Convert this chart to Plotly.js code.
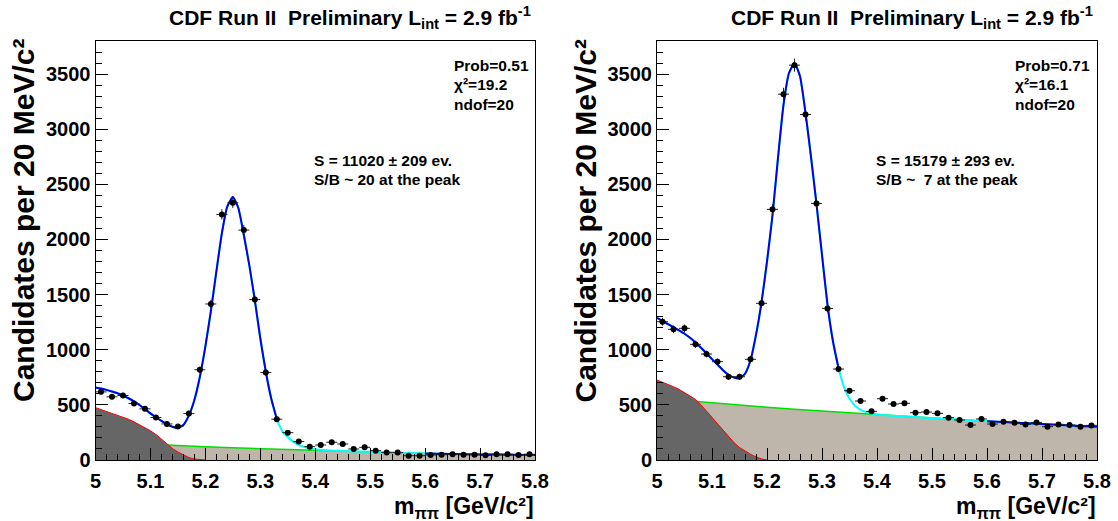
<!DOCTYPE html>
<html>
<head>
<meta charset="utf-8">
<script src="https://cdn.plot.ly/plotly-3.0.1.min.js"></script>
<style>html,body{margin:0;padding:0;background:#fff;}#chart{width:1118px;height:521px;}</style>
</head>
<body>
<div id="chart"></div>
<script>
// ---------------- data ----------------
const binCenters = [5.01,5.03,5.05,5.07,5.09,5.11,5.13,5.15,5.17,5.19,5.21,5.23,5.25,5.27,5.29,5.31,5.33,5.35,5.37,5.39,
                    5.41,5.43,5.45,5.47,5.49,5.51,5.53,5.55,5.57,5.59,5.61,5.63,5.65,5.67,5.69,5.71,5.73,5.75,5.77,5.79];
const leftCounts  = [618,573,585,512,464,385,327,303,421,818,1415,2227,2333,2085,1455,794,370,248,167,121,
                     136,161,145,100,115,85,67,67,39,39,45,48,52,48,48,42,52,52,45,52];
const rightCounts = [1254,1185,1194,1049,961,892,755,755,913,1421,2273,3318,3581,3134,2327,1375,825,628,535,441,
                     556,508,514,429,435,423,384,363,317,372,326,347,338,323,341,302,323,317,302,314];

// total fit function, sampled from the drawn curve
const curveX = [5.00,5.01,5.02,5.03,5.04,5.05,5.06,5.07,5.08,5.09,5.10,5.11,5.12,5.13,5.14,5.15,5.16,5.17,5.18,5.19,
                5.20,5.21,5.22,5.23,5.24,5.25,5.26,5.27,5.28,5.29,5.30,5.31,5.32,5.33,5.34,5.35,5.36,5.37,5.38,5.39,
                5.40,5.42,5.45,5.50,5.55,5.60,5.65,5.70,5.75,5.80];
const leftTotal  = [658,648,636,621,605,584,560,531,499,462,423,388,355,325,302,292,318,405,545,755,
                    1030,1350,1710,2055,2300,2385,2285,2040,1765,1450,1103,800,556,374,262,208,165,136,117,105,
                    97,88,81,74,66,59,55,51,48,46];
const rightTotal = [1290,1262,1232,1204,1175,1145,1108,1066,1018,968,915,865,815,773,748,742,782,905,1135,1430,
                    1800,2220,2740,3220,3510,3600,3480,3150,2750,2320,1860,1410,1075,835,664,557,492,455,435,421,
                    413,404,396,381,366,352,339,326,314,302];

// combinatorial background (green line, beige area)
const combX = [5.00,5.05,5.10,5.15,5.20,5.25,5.30,5.35,5.40,5.45,5.50,5.55,5.60,5.65,5.70,5.75,5.80];
const leftComb  = [166,153,141,130,120,110,102,94,86,79,72,65,59,55,51,48,46];
const rightComb = [559,538,518,498,479,461,444,427,411,395,380,366,352,339,326,314,302];

// partially reconstructed background (red line, dark grey area)
const partX = [5.00,5.01,5.02,5.03,5.04,5.05,5.06,5.07,5.08,5.09,5.10,5.11,5.12,5.13,5.14,5.15,5.16,5.17,5.18,5.19,5.20];
const leftPartial  = [475,458,442,425,408,390,370,347,322,295,265,232,190,145,105,73,45,22,9,3,0];
const rightPartial = [725,706,688,665,641,612,582,550,500,443,385,323,264,210,158,113,80,52,28,10,0];

// fit windows where the total function is drawn in blue
const fitWindows = [[5.00, 5.33], [5.60, 5.80]];

// texts
const titleText = 'CDF Run II\u00a0\u00a0Preliminary L<sub style="font-size:15px">int</sub> = 2.9 fb<sup style="font-size:15px">-1</sup>';
const yTitleText = 'Candidates per 20 MeV/c\u00b2';
const xTitleText = 'm<sub style="font-size:16px">\u03c0\u03c0</sub> [GeV/c\u00b2]';
const leftStats  = ['Prob=0.51', '\u03c7\u00b2=19.2', 'ndof=20'];
const rightStats = ['Prob=0.71', '\u03c7\u00b2=16.1', 'ndof=20'];
const leftYield  = ['S = 11020 \u00b1 209 ev.', 'S/B ~ 20 at the peak'];
const rightYield = ['S = 15179 \u00b1 293 ev.', 'S/B ~\u00a0\u00a07 at the peak'];

// ---------------- drawing ----------------
const W = 1118, H = 521;
const FONT = 'Liberation Sans, Arial, Helvetica, sans-serif';
const pxX = v => v / W;
const pxY = v => 1 - v / H;

const panels = [
  {xa:'x',  ya:'y',  counts:leftCounts,  total:leftTotal,  comb:leftComb,  part:leftPartial,
   left:95.5, right:535, stats:leftStats, yieldTxt:leftYield},
  {xa:'x2', ya:'y2', counts:rightCounts, total:rightTotal, comb:rightComb, part:rightPartial,
   left:657, right:1097, stats:rightStats, yieldTxt:rightYield}
];

const traces = [];
panels.forEach(p => {
  traces.push({x:combX, y:p.comb, xaxis:p.xa, yaxis:p.ya, mode:'lines', fill:'tozeroy',
               fillcolor:'rgb(190,181,171)', line:{color:'#00e000', width:1.5}, hoverinfo:'skip'});
  traces.push({x:partX, y:p.part, xaxis:p.xa, yaxis:p.ya, mode:'lines', fill:'tozeroy',
               fillcolor:'rgb(102,102,102)', line:{color:'#ff0000', width:1}, hoverinfo:'skip'});
  traces.push({x:curveX, y:p.total, xaxis:p.xa, yaxis:p.ya, mode:'lines',
               line:{color:'#00ffff', width:2, shape:'spline', smoothing:0.5}, hoverinfo:'skip'});
  fitWindows.forEach(w => {
    const xs = [], ys = [];
    curveX.forEach((x, i) => { if (x >= w[0] - 1e-9 && x <= w[1] + 1e-9) { xs.push(x); ys.push(p.total[i]); } });
    traces.push({x:xs, y:ys, xaxis:p.xa, yaxis:p.ya, mode:'lines',
                 line:{color:'#0000ee', width:2, shape:'spline', smoothing:0.5}, hoverinfo:'skip'});
  });
  traces.push({x:binCenters, y:p.counts, xaxis:p.xa, yaxis:p.ya, mode:'markers',
               marker:{color:'black', size:6},
               error_x:{type:'constant', value:0.01, color:'#222', thickness:1, width:0},
               error_y:{type:'sqrt', color:'#222', thickness:1, width:0}, hoverinfo:'skip'});
});

const tickFont = {family:FONT, size:20, weight:'bold', color:'black'};
function xAxis(p, anchor) {
  return {domain:[pxX(p.left), pxX(p.right)], anchor:anchor, range:[5, 5.8], tick0:5, dtick:0.1,
          showgrid:false, zeroline:false, showline:true, linecolor:'black', linewidth:1, mirror:true,
          ticks:'inside', ticklen:12, tickwidth:1, tickcolor:'black', tickfont:tickFont,
          ticklabelstandoff:3,
          minor:{ticks:'inside', ticklen:6, tickwidth:1, tickcolor:'black', dtick:0.02, tick0:5, showgrid:false}};
}
function yAxis(anchor) {
  return {domain:[pxY(460), pxY(41)], anchor:anchor, range:[0, 3800], tick0:0, dtick:500,
          showgrid:false, zeroline:false, showline:true, linecolor:'black', linewidth:1, mirror:true,
          ticks:'inside', ticklen:12, tickwidth:1, tickcolor:'black', tickfont:tickFont,
          minor:{ticks:'inside', ticklen:6, tickwidth:1, tickcolor:'black', dtick:100, tick0:0, showgrid:false}};
}

const annotations = [];
function ann(text, x, y, xanchor, size, extra) {
  annotations.push(Object.assign({text:text, x:pxX(x), y:pxY(y), xref:'paper', yref:'paper',
    xanchor:xanchor, yanchor:'middle', showarrow:false, borderpad:0,
    font:{family:FONT, size:size, weight:'bold', color:'black'}}, extra || {}));
}
panels.forEach(p => {
  const dx = p.left - 95.5;
  ann(titleText, p.right - 3, 17, 'right', 21);
  ann(yTitleText, 23 + dx, 221, 'center', 30, {textangle:-90});
  ann(xTitleText, p.right, 507, 'right', 23);
  p.stats.forEach((t, i) => ann(t, 452.5 + dx, 65 + i * 19.5, 'left', 15.5));
  p.yieldTxt.forEach((t, i) => ann(t, 313 + dx, 161 + i * 18, 'left', 15.5));
});

const layout = {
  width:W, height:H, margin:{l:0, r:0, t:0, b:0, pad:0},
  paper_bgcolor:'white', plot_bgcolor:'white', showlegend:false, hovermode:false,
  xaxis:xAxis(panels[0], 'y'), yaxis:yAxis('x'),
  xaxis2:xAxis(panels[1], 'y2'), yaxis2:yAxis('x2'),
  annotations:annotations
};

Plotly.newPlot('chart', traces, layout, {displayModeBar:false, staticPlot:true});
</script>
</body>
</html>
